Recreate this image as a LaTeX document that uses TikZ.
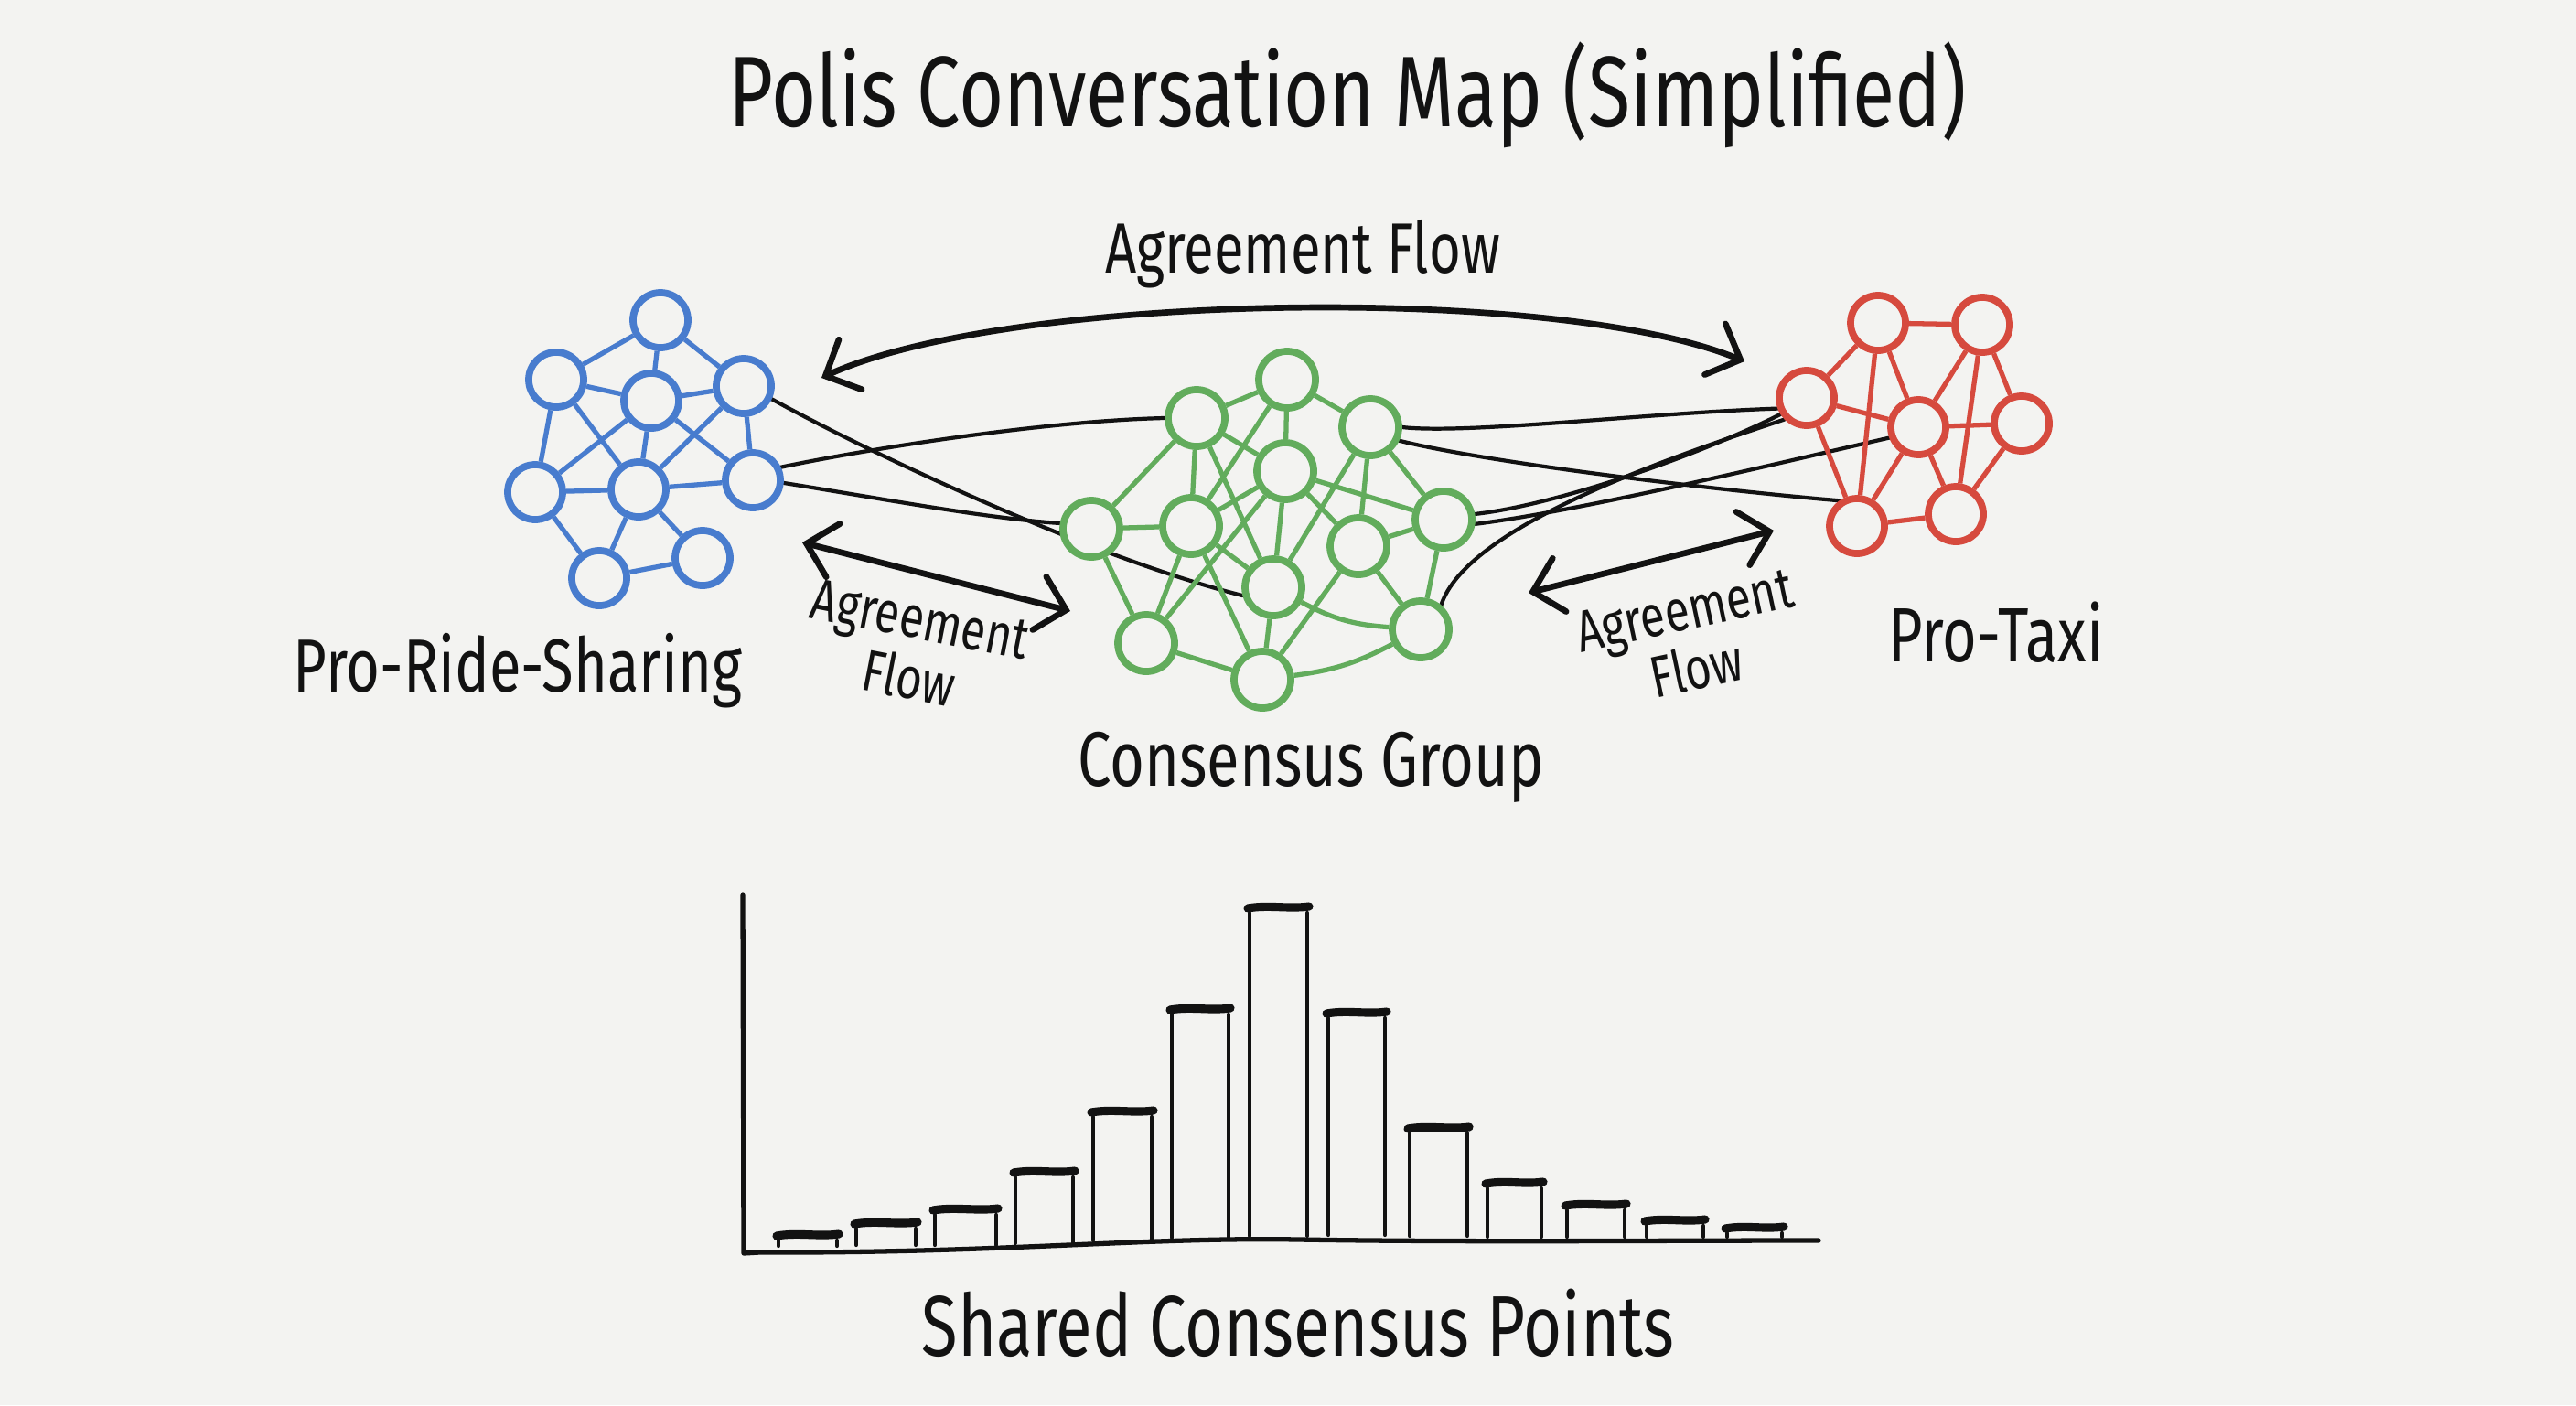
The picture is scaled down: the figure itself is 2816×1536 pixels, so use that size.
\documentclass[tikz,border=0pt]{standalone}
\usepackage{fontspec}
\setmainfont{Fira Sans}
\usetikzlibrary{arrows.meta}
\definecolor{paper}{RGB}{243,243,241}
\definecolor{cblue}{RGB}{72,124,206}
\definecolor{cgreen}{RGB}{98,172,92}
\definecolor{cred}{RGB}{214,74,62}
\definecolor{ink}{RGB}{18,18,18}
\pgfdeclarelayer{bg}
\pgfdeclarelayer{back}
\pgfsetlayers{bg,back,main}
\newcommand{\hw}[2]{\scalebox{1}[1.3]{\fontsize{#1}{#1}\selectfont\renewcommand{\arraystretch}{0.95}#2}}
\begin{document}
\begin{tikzpicture}[x=0.01cm,y=-0.01cm,
  bnode/.style={circle,draw=cblue,line width=2.2pt,fill=paper,minimum size=0.6cm,inner sep=0pt},
  gnode/.style={circle,draw=cgreen,line width=2.2pt,fill=paper,minimum size=0.62cm,inner sep=0pt},
  rnode/.style={circle,draw=cred,line width=2.2pt,fill=paper,minimum size=0.6cm,inner sep=0pt},
  bedge/.style={draw=cblue,line width=1.5pt},
  gedge/.style={draw=cgreen,line width=1.5pt},
  redge/.style={draw=cred,line width=1.5pt},
  link/.style={draw=ink,line width=1.2pt,line cap=round},
  arr/.style={draw=ink,line width=1.9pt,line cap=round,>={Straight Barb[length=3mm,width=6mm,line cap=round]},<->},
  lbl/.style={text=ink,inner sep=0pt},
  barside/.style={draw=ink,line width=1.2pt,line cap=round},
  barcap/.style={draw=ink,line width=2.6pt,line cap=round},
  axisline/.style={draw=ink,line width=1.5pt,line cap=round,line join=round}]
\begin{pgfonlayer}{bg}
\fill[paper] (0,0) rectangle (2816,1536);
\end{pgfonlayer}
\useasboundingbox (0,0) rectangle (2816,1536);

% ---------- blue cluster ----------
\node[bnode] (b1) at (722,350) {};
\node[bnode] (b2) at (608,415) {};
\node[bnode] (b3) at (712,438) {};
\node[bnode] (b4) at (813,422) {};
\node[bnode] (b5) at (585,538) {};
\node[bnode] (b6) at (698,535) {};
\node[bnode] (b7) at (823,525) {};
\node[bnode] (b8) at (655,632) {};
\node[bnode] (b9) at (768,610) {};
\foreach \a/\b in {b1/b2,b1/b3,b1/b4,b2/b3,b2/b5,b2/b6,b3/b4,b3/b5,b3/b6,b3/b7,b4/b7,b4/b6,b5/b6,b5/b8,b6/b7,b6/b8,b6/b9,b8/b9}
  \draw[bedge] (\a) -- (\b);

% ---------- green cluster ----------
\node[gnode] (g1) at (1407,415) {};
\node[gnode] (g2) at (1308,457) {};
\node[gnode] (g3) at (1498,467) {};
\node[gnode] (g4) at (1405,515) {};
\node[gnode] (g5) at (1193,578) {};
\node[gnode] (g6) at (1302,575) {};
\node[gnode] (g7) at (1578,568) {};
\node[gnode] (g8) at (1485,597) {};
\node[gnode] (g9) at (1392,642) {};
\node[gnode] (g10) at (1253,703) {};
\node[gnode] (g11) at (1553,688) {};
\node[gnode] (g12) at (1380,743) {};
\foreach \a/\b in {g1/g2,g1/g3,g1/g4,g1/g6,g2/g4,g2/g5,g2/g6,g2/g9,g3/g7,g3/g8,g3/g9,g4/g6,g4/g9,g4/g7,g4/g8,g4/g10,g5/g6,g5/g10,g6/g9,g6/g10,g6/g12,g7/g8,g7/g11,g8/g11,g8/g12,g9/g12,g10/g12}
  \draw[gedge] (\a) -- (\b);
\draw[gedge] (g9) to[bend right=12] (g11);
\draw[gedge] (g12) to[bend right=10] (g11);

% ---------- red cluster ----------
\node[rnode] (r1) at (2053,353) {};
\node[rnode] (r2) at (2167,355) {};
\node[rnode] (r3) at (1975,435) {};
\node[rnode] (r4) at (2097,467) {};
\node[rnode] (r5) at (2210,463) {};
\node[rnode] (r6) at (2030,575) {};
\node[rnode] (r7) at (2138,562) {};
\foreach \a/\b in {r1/r2,r1/r3,r1/r4,r1/r6,r2/r4,r2/r5,r2/r7,r3/r4,r3/r6,r4/r5,r4/r6,r4/r7,r5/r7,r6/r7}
  \draw[redge] (\a) -- (\b);

% ---------- black links between clusters ----------
\begin{pgfonlayer}{back}
\draw[link] (b4.-25) .. controls +(115,63) and +(-160,-40) .. (g9.195);
\draw[link] (b7.25) .. controls +(95,-20) and +(-130,3) .. (g2.180);
\draw[link] (b7.-5) .. controls +(95,15) and +(-80,-5) .. (g5.170);
\draw[link] (g3.0) .. controls +(70,8) and +(-145,5) .. (r3.200);
\draw[link] (g3.-25) .. controls +(100,25) and +(-120,-10) .. (r6.125);
\draw[link] (g7.10) .. controls +(90,-10) and +(-90,45) .. (r3.212);
\draw[link] (g7.-8) .. controls +(120,-15) and +(-110,25) .. (r4.200);
\draw[link] (g11.50) .. controls +(28,-85) and +(-133,44) .. (r3.224);
\end{pgfonlayer}

% ---------- agreement flow arrows ----------
\coordinate (atl) at (898,413);
\coordinate (atr) at (1907,395);
\coordinate (all) at (877,593);
\coordinate (alr) at (1170,668);
\coordinate (arl) at (1671,648);
\coordinate (arr2) at (1939,580);
\draw[arr] (atl) .. controls (1100,320) and (1700,310) .. (atr);
\draw[arr] (all) -- (alr);
\draw[arr] (arl) -- (arr2);

% ---------- labels ----------
\node[lbl] (title) at (1473,104) {\hw{24}{Polis Conversation Map (Simplified)}};
\node[lbl] (flowtop) at (1424,278) {\hw{17}{Agreement Flow}};
\node[lbl,rotate=-11] (flowleft) at (998,718) {\hw{14}{\begin{tabular}{@{}c@{}}Agreement\\Flow\end{tabular}}};
\node[lbl,rotate=12] (flowright) at (1850,708) {\hw{14}{\begin{tabular}{@{}c@{}}Agreement\\Flow\end{tabular}}};
\node[lbl] (pride) at (566,733) {\hw{18}{Pro-Ride-Sharing}};
\node[lbl] (cons) at (1433,839) {\hw{18.5}{Consensus Group}};
\node[lbl] (ptaxi) at (2182,691) {\hw{18.4}{Pro-Taxi}};
\node[lbl] (shared) at (1419,1446) {\hw{20.6}{Shared Consensus Points}};

% ---------- bar chart ----------
\draw[axisline] (812,978) -- (813,1370) -- (830,1369) .. controls (1100,1370) and (1250,1352) .. (1420,1355) .. controls (1600,1358) and (1800,1356) .. (1988,1356);
\foreach \l/\r/\t/\bt in {851/915/1350/1367, 936/1001/1337/1366, 1022/1089/1322/1366, 1110/1173/1281/1364, 1195/1259/1215/1361, 1281/1343/1103/1358, 1366/1429/992/1356, 1452/1514/1107/1355, 1541/1604/1233/1356, 1626/1685/1293/1357, 1713/1776/1317/1357, 1800/1862/1334/1357, 1888/1948/1342/1357}{
  \draw[barside] (\l,\bt-5) -- (\l,\t+6);
  \draw[barside] (\r,\bt-5) -- (\r,\t+6);
  \draw[barcap] (\l-2,\t+1) .. controls (\l+20,\t-3) and (\r-20,\t+2) .. (\r+2,\t-1);
}
\end{tikzpicture}
\end{document}
